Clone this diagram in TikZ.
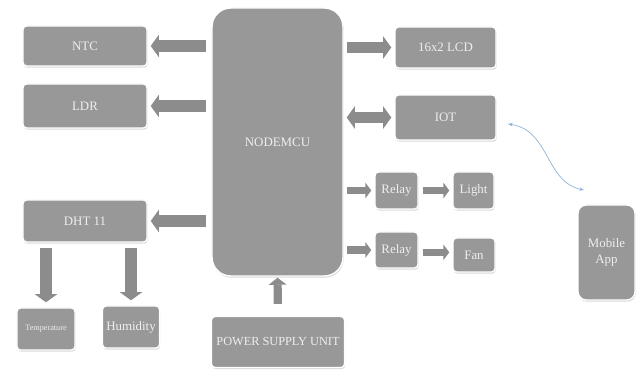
\documentclass[tikz,border=0pt]{standalone}
\usepackage{fontspec}
\setmainfont{Liberation Serif}
\usepackage{tikz}
\usetikzlibrary{arrows.meta,shadows}

\definecolor{boxgray}{HTML}{989898}
\definecolor{arrgray}{HTML}{8C8C8C}
\definecolor{boxtext}{HTML}{EEEEEE}
\definecolor{linkblue}{HTML}{8DB4DA}

\tikzset{
  blk/.style={draw=white,line width=1.2pt,fill=boxgray,rounded corners=3pt,
    text=boxtext,inner sep=1pt,align=center,font=\fontsize{11}{13}\selectfont,
    drop shadow={shadow xshift=0.6pt,shadow yshift=-1.4pt,opacity=0.3}},
  fatarrow/.style={draw=arrgray,line width=10pt,
    -{Triangle[width=19pt,length=7pt]}},
  fatboth/.style={draw=arrgray,line width=10pt,
    {Triangle[width=19pt,length=7pt]}-{Triangle[width=19pt,length=7pt]}},
  thinarrow/.style={draw=arrgray,line width=6pt,
    -{Triangle[width=13pt,length=5pt]}},
}

\begin{document}
\begin{tikzpicture}[x=0.03cm,y=-0.03cm]
  \useasboundingbox (0,0) rectangle (643,371);

  % left side
  \node[blk,minimum width=3.72cm,minimum height=1.2cm] (ntc) at (85,46) {NTC};
  \node[blk,minimum width=3.72cm,minimum height=1.32cm] (ldr) at (85,106) {LDR};
  \node[blk,minimum width=3.72cm,minimum height=1.26cm] (dht) at (85,221) {DHT 11};
  \node[blk,minimum width=1.74cm,minimum height=1.26cm,font=\fontsize{7}{8}\selectfont] (temp) at (46,329) {Temperature};
  \node[blk,minimum width=1.71cm,minimum height=1.26cm] (hum) at (131,327) {Humidity};

  % controller and supply
  \node[blk,minimum width=3.93cm,minimum height=8.04cm,rounded corners=16pt] (mcu) at (277.5,142) {NODEMCU};
  \node[blk,minimum width=3.99cm,minimum height=1.53cm,font=\fontsize{10.5}{12}\selectfont] (psu) at (278,342) {POWER SUPPLY UNIT};

  % right side
  \node[blk,minimum width=3.03cm,minimum height=1.23cm] (lcd) at (445.5,47.5) {16x2 LCD};
  \node[blk,minimum width=3.03cm,minimum height=1.35cm] (iot) at (445.5,117.5) {IOT};
  \node[blk,minimum width=1.29cm,minimum height=1.11cm] (relaya) at (396.5,190.5) {Relay};
  \node[blk,minimum width=1.23cm,minimum height=1.11cm] (light) at (473.5,190.5) {Light};
  \node[blk,minimum width=1.29cm,minimum height=1.08cm] (relayb) at (396.5,250) {Relay};
  \node[blk,minimum width=1.26cm,minimum height=1.02cm] (fan) at (474,255) {Fan};
  \node[blk,minimum width=1.71cm,minimum height=2.85cm,rounded corners=7pt] (app) at (606.5,252.5) {Mobile\\App};

  % block arrows
  \draw[fatarrow,shorten <=0.15cm,shorten >=0.09cm] (mcu.west |- ntc) -- (ntc.east);
  \draw[fatarrow,shorten <=0.15cm,shorten >=0.09cm] (mcu.west |- ldr) -- (ldr.east);
  \draw[fatarrow,shorten <=0.15cm,shorten >=0.09cm] (mcu.west |- dht) -- (dht.east);
  \draw[fatarrow,shorten <=0.15cm,shorten >=0.15cm] (dht.south -| temp) -- (temp.north);
  \draw[fatarrow,shorten <=0.15cm,shorten >=0.15cm] (dht.south -| hum) -- (hum.north);
  \draw[fatarrow,shorten <=0.09cm,shorten >=0.09cm] (mcu.east |- lcd) -- (lcd.west);
  \draw[fatboth,shorten <=0.09cm,shorten >=0.09cm] (mcu.east |- iot) -- (iot.west);
  \draw[thinarrow,shorten <=0.09cm,shorten >=0.09cm] (mcu.east |- relaya) -- (relaya.west);
  \draw[thinarrow,shorten <=0.12cm,shorten >=0.09cm] (relaya) -- (light);
  \draw[thinarrow,shorten <=0.09cm,shorten >=0.09cm] (mcu.east |- relayb) -- (relayb.west);
  \draw[thinarrow,shorten <=0.12cm,shorten >=0.09cm] ([yshift=-2pt]relayb.east) -- ([yshift=-2pt]relayb.east -| fan.west);
  \draw[draw=arrgray,line width=7pt,-{Triangle[width=15pt,length=6pt]},shorten <=0.36cm,shorten >=0.03cm] (psu.north) -- (mcu.south);

  % wireless link
  \coordinate (wa) at (508,124);
  \coordinate (wb) at (584,190);
  \draw[linkblue,line width=0.6pt,{Stealth[length=4pt]}-{Stealth[length=4pt]}]
    (wa) .. controls (550,130) and (545,182) .. (wb);
\end{tikzpicture}
\end{document}
